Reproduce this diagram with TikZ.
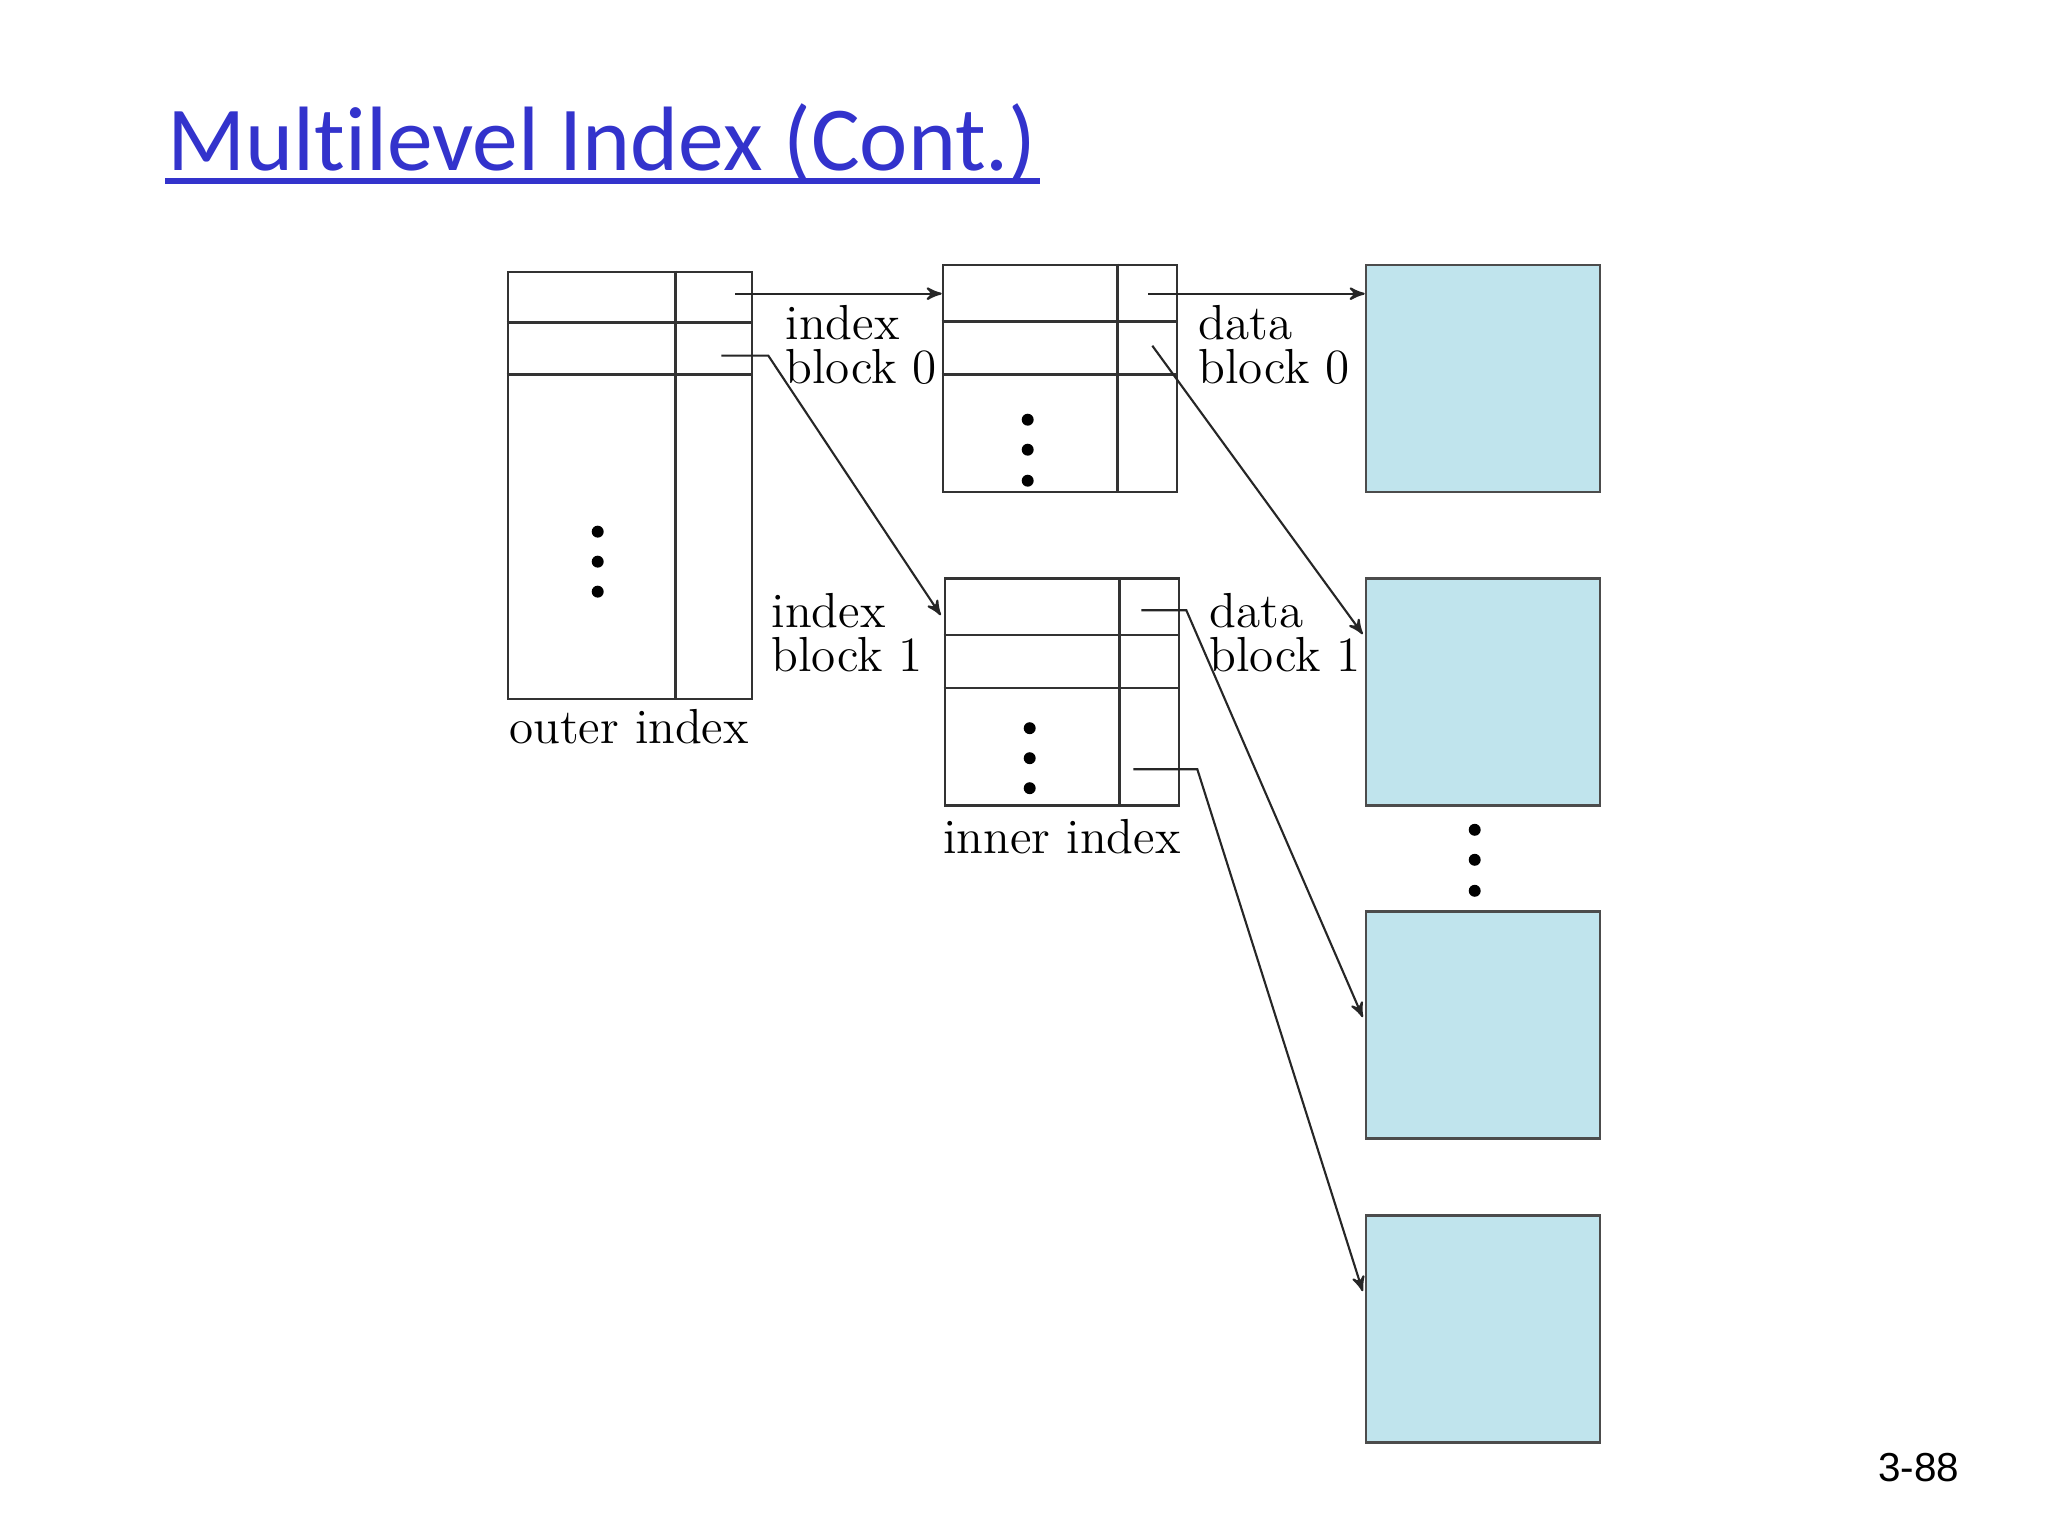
\documentclass[tikz,border=0pt]{standalone}
\usepackage{fontspec}
\newfontfamily\titlefont[Ligatures=NoCommon]{Carlito}
\newfontfamily\pagefont{Liberation Sans}
\usepackage{tikz}
\usetikzlibrary{arrows,calc,positioning}
\definecolor{titleblue}{RGB}{51,51,204}
\definecolor{blockblue}{RGB}{192,228,237}
\tikzset{
    %Define standard arrow tip
    >=stealth',
    %Define style for index blocks
    indexbox/.style={
           rectangle,
           draw=black!80, line width=0.7pt,
           minimum width=2.34cm,
           minimum height=2.27cm,
           inner sep=0pt},
    outerbox/.style={
           indexbox,
           minimum width=2.44cm,
           minimum height=4.27cm},
    databox/.style={
           indexbox,
           draw=black!70,
           fill=blockblue},
    %Define style for cell lines and labels
    cell/.style={
           draw=black!80, line width=0.7pt},
    lbl/.style={
           font=\fontsize{14}{12.5}\selectfont,
           align=left,
           inner sep=0pt},
    % Define arrow style
    pil/.style={
           ->,
           line width=0.6pt,
           black!85}
}
\begin{document}
\begin{tikzpicture}[x=0.01cm,y=-0.01cm]
\fill[white] (0,0) rectangle (2048,1536);
\useasboundingbox (0,0) rectangle (2048,1536);
 %title
\node[anchor=base west, inner sep=0pt, text=titleblue,
      font=\titlefont\fontsize{26}{30}\selectfont] (title) at (167,170) {Multilevel Index (Cont.)};
\draw[titleblue, line width=1.7pt] ($(title.base west)+(-2,11)$) -- ($(title.base east)+(2,11)$);
 %blocks
\node[outerbox] (outer) at (630,485.5) {};
\node[indexbox] (ib0) at (1060,378.5) {};
\node[indexbox] (ib1) at (1062,692) {};
\node[databox] (db0) at (1483,378.5) {};
\node[databox] (db1) at (1483,692) {};
\node[databox] (db2) at (1483,1025) {};
\node[databox] (db3) at (1483,1329) {};
 %cells
\draw[cell] ($(outer.north east)+(-78,0)$) -- ($(outer.south east)+(-78,0)$);
\foreach \y in {52,104}
    \draw[cell] ($(outer.north west)+(0,\y)$) -- ($(outer.north east)+(0,\y)$);
\foreach \b in {ib0,ib1} {
    \draw[cell] ($(\b.north east)+(-61,0)$) -- ($(\b.south east)+(-61,0)$);
    \foreach \y in {58,111}
        \draw[cell] ($(\b.north west)+(0,\y)$) -- ($(\b.north east)+(0,\y)$);
}
 %dots
\foreach \y in {261,291,321}
    \fill ($(outer.north west)+(91,\y)$) circle (1.7pt);
\foreach \y in {156,186,217}
    \fill ($(ib0.north west)+(86,\y)$) circle (1.7pt);
\foreach \y in {151,181,211}
    \fill ($(ib1.north west)+(86,\y)$) circle (1.7pt);
\foreach \y in {23,53,84}
    \fill ($(db1.south west)+(110,\y)$) circle (1.7pt);
 %pointers
\coordinate (o0) at ($(outer.north east)+(-18,23)$);
\coordinate (o1) at ($(outer.north east)+(-32,85)$);
\coordinate (i0) at ($(ib0.north east)+(-30,30)$);
\coordinate (i1) at ($(ib0.north east)+(-26,82)$);
\coordinate (j0) at ($(ib1.north east)+(-39,33)$);
\coordinate (j1) at ($(ib1.north east)+(-47,192)$);
\draw[pil] (o0) -- (o0 -| ib0.west);
\draw[pil] (o1) -- ++(47,0) -- ($(ib1.north west)+(-3,38)$);
\draw[pil] (i0) -- (i0 -| db0.west);
\draw[pil] (i1) -- ($(db1.north west)+(-2,57)$);
\draw[pil] (j0) -- ++(45,0) -- ($(db2.north west)+(-2,107)$);
\draw[pil] (j1) -- ++(64,0) -- ($(db3.north west)+(-2,77)$);
 %labels
\node[lbl, anchor=west] (ilbl0) at (785,345) {index\\block 0};
\node[lbl, anchor=west] (ilbl1) at (771,633) {index\\block 1};
\node[lbl, anchor=west] (dlbl0) at (1198,345) {data\\block 0};
\node[lbl, anchor=west] (dlbl1) at (1209,633) {data\\block 1};
\node[lbl] (outerlbl) at (629,727) {outer index};
\node[lbl] (innerlbl) at (1062,837) {inner index};
\node[anchor=east, inner sep=0pt, font=\pagefont\fontsize{11.5}{14}\selectfont] (pagenum) at (1960,1468) {3-88};
\end{tikzpicture}
\end{document}
